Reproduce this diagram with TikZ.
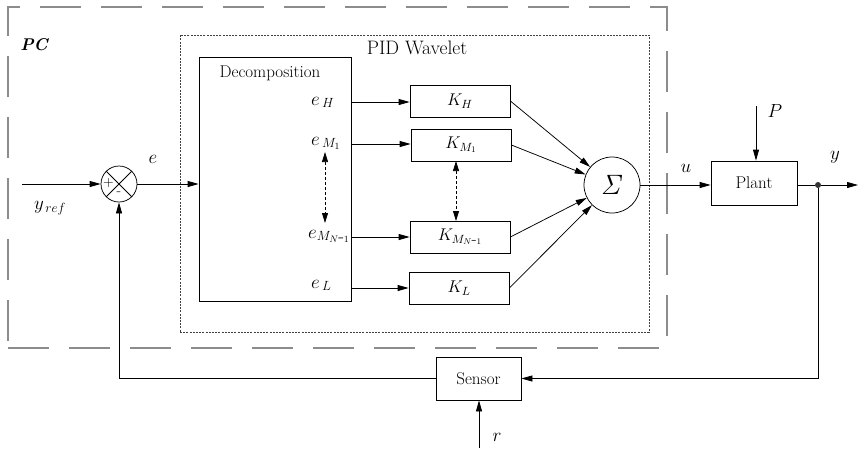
\RequirePackage{fix-cm}
\documentclass[tikz,border=0pt]{standalone}
\usetikzlibrary{arrows.meta,calc}
\begin{document}
\begin{tikzpicture}[x=1pt,y=-1pt,
  lw/.style={line width=0.75pt},
  blk/.style={draw, lw, inner sep=0pt},
  arr/.style={lw, -{Triangle[length=11pt,width=6pt]}},
  darr/.style={lw, dash pattern=on 3pt off 2pt, {Triangle[length=10pt,width=6pt]}-{Triangle[length=10pt,width=6pt]}},
  outerbox/.style={draw=black!45, line width=1.3pt, dash pattern=on 41pt off 20pt, inner sep=0pt},
  innerbox/.style={draw=black!75, line width=0.7pt, dash pattern=on 2pt off 1.2pt, inner sep=0pt},
  kbox/.style={blk, minimum width=100pt, minimum height=32pt},
  big/.style={font=\fontsize{19}{22}\selectfont},
  elab/.style={font=\fontsize{19}{22}\selectfont, anchor=base west, inner sep=0pt},
  klab/.style={font=\fontsize{17}{20}\selectfont},
  mid/.style={font=\fontsize{17}{20}\selectfont},
]
\useasboundingbox (0,0) rectangle (858,448);

% frames
\node[outerbox, minimum width=659pt, minimum height=341pt] (pcbox) at (337.5,177.5) {};
\node[innerbox, minimum width=469pt, minimum height=297pt] (pid) at (414.5,183.5) {};
\node[font=\fontsize{17}{19}\selectfont\bfseries\itshape] (pclab) at (34,45) {PC};
\node[font=\fontsize{19.5}{22}\selectfont] (pidlab) at (417,48) {PID Wavelet};

% decomposition
\node[blk, minimum width=152pt, minimum height=244pt] (dec) at (275,179) {};
\node[mid] (declab) at (270,73) {Decomposition};
\node[elab] (eH) at (311,105) {$e_{\,H}$};
\node[elab] (eM1) at (311,145) {$e_{\,M_1}$};
\node[elab] (eMN) at (308,238) {$e_{M_{N\mbox{-}1}}$};
\node[elab] (eL) at (311,288) {$e_{\,L}$};
\coordinate (da1) at (325,152);
\coordinate (da2) at (325,223);
\draw[darr] (da1) -- (da2);

% K boxes
\node[kbox, klab] (kH) at (460,101) {$K_{H}$};
\node[kbox, klab] (kM1) at (461,145) {$K_{M_1}$};
\node[kbox, klab] (kMN) at (460,237) {$K_{M_{N\mbox{-}1}}$};
\node[kbox, klab] (kL) at (459,288) {$K_{L}$};

\draw[arr] (dec.east |- 0,102) coordinate (oH) -- (oH -| kH.west);
\draw[arr] (dec.east |- 0,144) coordinate (oM1) -- (oM1 -| kM1.west);
\draw[arr] (dec.east |- 0,237) coordinate (oMN) -- (oMN -| kMN.west);
\draw[arr] (dec.east |- 0,288) coordinate (oL) -- (oL -| kL.west);

\coordinate (db1) at (456,161);
\coordinate (db2) at (456,221);
\draw[darr] (db1) -- (db2);

% sigma
\node[blk, circle, minimum size=56pt] (sig) at (612,185) {\fontsize{28}{30}\selectfont$\mathit{\Sigma}$};
\draw[arr] (kH.east) -- (sig);
\draw[arr] (kM1.east) -- (sig);
\draw[arr] (kMN.east) -- (sig);
\draw[arr] (kL.east) -- (sig);

% summing junction
\node[blk, circle, minimum size=36pt] (sum) at (119,184) {};
\draw[lw] (sum.north west) -- (sum.south east);
\draw[lw] (sum.north east) -- (sum.south west);
\node[font=\fontsize{14}{14}\selectfont, inner sep=0pt] (plus) at (108.5,183) {+};
\node[font=\fontsize{15}{15}\selectfont, inner sep=0pt] (minus) at (119,194) {-};

\coordinate (yin) at (22,184);
\draw[arr] (yin) -- (sum.west);
\node[big] (yref) at (50,208) {$y_{\,ref}$};
\draw[arr] (sum.east) -- (sum.east -| dec.west);
\node[big] (elab) at (153,159) {$e$};

% plant
\node[blk, minimum width=86pt, minimum height=44pt, mid] (plant) at (754,183) {Plant};
\draw[arr] (sig.east) -- (sig.east -| plant.west);
\node[big] (ulab) at (686,168) {$u$};
\coordinate (pin) at (756,106);
\draw[arr] (pin) -- (pin |- plant.north);
\node[big] (plab) at (775,111) {$P$};

\node[circle, fill=black!80, inner sep=0pt, minimum size=6pt] (dot) at (818,185) {};
\coordinate (yout) at (858,185);
\draw[lw] (sig.east -| plant.east) -- (dot);
\draw[arr] (dot) -- (yout);
\node[big] (ylab) at (835,157) {$y$};

% sensor
\node[blk, minimum width=85pt, minimum height=43pt, mid] (sensor) at (478.5,378.5) {Sensor};
\draw[arr] (dot) |- (sensor.east);
\draw[arr] (sensor.west) -| (sum.south);
\coordinate (rin) at (479,448);
\draw[arr] (rin) -- (rin |- sensor.south);
\node[big] (rlab) at (497,437) {$r$};
\end{tikzpicture}
\end{document}
